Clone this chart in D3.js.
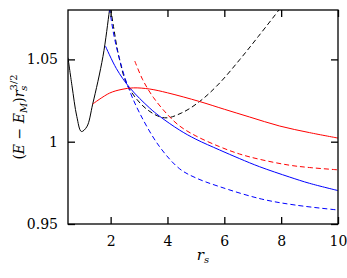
<!DOCTYPE html>
<html>
<head>
<meta charset="utf-8">
<script src="https://cdn.jsdelivr.net/npm/d3@7"></script>
<style>
  body { margin: 0; background: #fff; }
</style>
</head>
<body>
<div id="chart"></div>
<script>
// values: [r_s, (E-E_M) r_s^{3/2}]
var blackSolid = [[0.5,1.051],[0.64,1.034],[0.81,1.0153],[0.97,1.0062],[1.16,1.009],[1.37,1.0229],[1.73,1.0518],[1.96,1.080],[2.02,1.088]];
var blackDashed = [[1.96,1.086],[2.1,1.070],[2.3,1.051],[2.6,1.034],[3.25,1.020],[3.9,1.0145],[4.5,1.0175],[5.13,1.0244],[5.8,1.035],[6.54,1.0498],[7.2,1.064],[7.92,1.080],[8.0,1.082]];
var blueSolid = [[1.82,1.058],[2.2,1.0445],[2.67,1.0328],[3.37,1.0205],[3.72,1.0155],[4.43,1.007],[5.0,1.0015],[5.83,0.995],[6.54,0.9897],[7.24,0.9848],[8.3,0.9785],[9.0,0.9747],[10,0.9703]];
var blueDashed = [[1.92,1.086],[2.1,1.066],[2.3,1.051],[2.6,1.034],[3.02,1.0174],[3.72,0.997],[4.43,0.9835],[5.0,0.978],[5.83,0.9727],[7.3,0.9652],[8.5,0.9615],[10,0.9585]];
var redSolid = [[1.37,1.0229],[1.96,1.0295],[2.4,1.0318],[2.8,1.0327],[3.37,1.032],[4.0,1.0297],[5.13,1.0244],[6.0,1.0197],[6.89,1.015],[7.95,1.0095],[9.0,1.0055],[10,1.0022]];
var redDashed = [[2.85,1.049],[3.13,1.0376],[3.5,1.027],[4.0,1.0165],[4.43,1.0095],[5.0,1.0035],[5.83,0.997],[6.54,0.9925],[7.24,0.9893],[8.3,0.9857],[9.0,0.9843],[10,0.9829]];

var xTicks = [2, 4, 6, 8, 10];
var yTicks = [0.95, 1, 1.05];

var series = [
  {data: blackSolid, color: "#000", dash: null},
  {data: blackDashed, color: "#000", dash: "5,3"},
  {data: blueSolid, color: "#0000ff", dash: null},
  {data: blueDashed, color: "#0000ff", dash: "5,3"},
  {data: redSolid, color: "#ff0000", dash: null},
  {data: redDashed, color: "#ff0000", dash: "5,3"}
];

var serif = "DejaVu Serif";

var margin = {top: 10, right: 9, bottom: 54, left: 68},
    width = 347 - margin.left - margin.right,
    height = 278 - margin.top - margin.bottom;

var svg = d3.select("#chart")
  .append("svg")
    .attr("width", 347)
    .attr("height", 278)
    .attr("font-family", serif)
  .append("g")
    .attr("transform", "translate(" + margin.left + "," + margin.top + ")");

var x = d3.scaleLinear().domain([0.5, 10]).range([0, width]);
var y = d3.scaleLinear().domain([0.95, 1.08]).range([height, 0]);

svg.append("clipPath").attr("id", "clip")
  .append("rect").attr("width", width).attr("height", height);

var line = d3.line()
  .x(function(d) { return x(d[0]); })
  .y(function(d) { return y(d[1]); })
  .curve(d3.curveCatmullRom.alpha(0.5));

svg.append("g").attr("clip-path", "url(#clip)")
  .selectAll("path")
  .data(series)
  .enter()
  .append("path")
    .attr("d", function(d) { return line(d.data); })
    .attr("fill", "none")
    .attr("stroke", function(d) { return d.color; })
    .attr("stroke-width", 1)
    .attr("stroke-dasharray", function(d) { return d.dash; });

// axes, ticks pointing inward
function styleAxis(g) {
  g.attr("font-family", serif);
  g.select(".domain").remove();
  g.selectAll(".tick line").attr("stroke", "#000").attr("stroke-width", 1.3);
  g.selectAll(".tick text").attr("font-size", "14px").attr("fill", "#000");
}

svg.append("g")
  .attr("transform", "translate(0," + height + ")")
  .call(d3.axisBottom(x).tickValues(xTicks).tickSize(-7).tickPadding(12).tickFormat(d3.format("d")))
  .call(styleAxis);

svg.append("g")
  .call(d3.axisTop(x).tickValues(xTicks).tickSize(-7).tickFormat(""))
  .call(styleAxis);

svg.append("g")
  .call(d3.axisLeft(y).tickValues(yTicks).tickSize(-7).tickPadding(10).tickFormat(function(d) { return String(d); }))
  .call(styleAxis);

svg.append("g")
  .attr("transform", "translate(" + width + ",0)")
  .call(d3.axisRight(y).tickValues(yTicks).tickSize(-7).tickFormat(""))
  .call(styleAxis);

svg.append("rect")
  .attr("width", width)
  .attr("height", height)
  .attr("fill", "none")
  .attr("stroke", "#000")
  .attr("stroke-width", 1.3);

// x label
var xl = svg.append("text")
  .attr("x", width / 2)
  .attr("y", height + 36)
  .attr("text-anchor", "middle")
  .attr("font-size", "15px");
xl.append("tspan").attr("font-style", "italic").text("r");
xl.append("tspan").attr("font-style", "italic").attr("font-size", "10px").attr("dy", 3).text("s");

// y label
var yl = svg.append("text")
  .attr("transform", "translate(" + (-44) + "," + (height / 2) + ") rotate(-90)")
  .attr("text-anchor", "middle")
  .attr("font-size", "14px");
yl.append("tspan").text("(");
yl.append("tspan").attr("font-style", "italic").text("E");
yl.append("tspan").text(" \u2212 ");
yl.append("tspan").attr("font-style", "italic").text("E");
yl.append("tspan").attr("font-style", "italic").attr("font-size", "10px").attr("dy", 3).text("M");
yl.append("tspan").attr("dy", -3).text(")");
yl.append("tspan").attr("font-style", "italic").text("r");
yl.append("tspan").attr("font-style", "italic").attr("font-size", "10px").attr("dy", 3).text("s");
yl.append("tspan").attr("font-size", "10px").attr("dy", -10).attr("dx", -5).text("3/2");
</script>
</body>
</html>
